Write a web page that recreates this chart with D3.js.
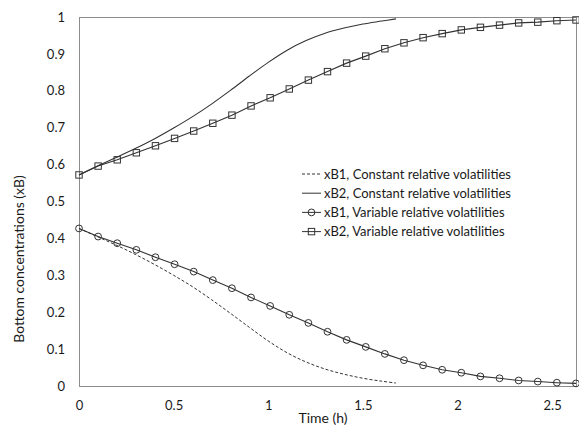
<!DOCTYPE html>
<html><head><meta charset="utf-8">
<script src="https://cdn.jsdelivr.net/npm/d3@7"></script>
<style>
body{margin:0;background:#fff}
svg{display:block}
text{font-family:Lato, "Open Sans", sans-serif; fill:#1a1a1a}
</style>
</head><body>
<svg id="chart" width="579" height="428"></svg>
<script>
// ---- data ----
const timeConst = [0,0.1,0.2,0.3,0.4,0.5,0.6,0.7,0.8,0.9,1.0,1.1,1.2,1.3,1.4,1.5,1.6,1.675];
const xB1Const  = [0.427,0.404,0.381,0.356,0.329,0.300,0.269,0.234,0.197,0.159,0.122,0.090,0.065,0.046,0.032,0.021,0.013,0.008];
const xB2Const  = [0.572,0.597,0.620,0.644,0.670,0.699,0.730,0.764,0.801,0.840,0.877,0.910,0.936,0.956,0.970,0.981,0.989,0.995];
const timeVar = [0,0.101,0.202,0.303,0.404,0.505,0.606,0.707,0.808,0.909,1.010,1.111,1.212,1.313,1.414,1.515,1.616,1.717,1.818,1.919,2.020,2.121,2.222,2.323,2.424,2.525,2.626];
const xB1Var  = [0.427,0.405,0.387,0.369,0.349,0.330,0.310,0.287,0.265,0.240,0.217,0.193,0.171,0.147,0.125,0.106,0.087,0.070,0.056,0.044,0.036,0.026,0.021,0.015,0.012,0.009,0.007];
const xB2Var  = [0.572,0.596,0.613,0.632,0.651,0.671,0.691,0.712,0.734,0.759,0.781,0.805,0.829,0.852,0.875,0.894,0.914,0.930,0.944,0.955,0.965,0.972,0.978,0.984,0.986,0.990,0.992];
const xTicks = [0,0.5,1,1.5,2,2.5];
const yTicks = [0,0.1,0.2,0.3,0.4,0.5,0.6,0.7,0.8,0.9,1];
const legendLabels = ["xB1, Constant relative volatilities","xB2, Constant relative volatilities","xB1, Variable relative volatilities","xB2, Variable relative volatilities"];
const xTitle = "Time (h)";
const yTitle = "Bottom concentrations  (xB)";

// ---- layout ----
const W = 579, H = 428;
const m = {left:79, top:17, right:3, bottom:42};
const svg = d3.select("#chart");
const x = d3.scaleLinear().domain([0, 2.626]).range([m.left, W - m.right]);
const y = d3.scaleLinear().domain([0, 1]).range([H - m.bottom, m.top]);
const lineCol = "#333";

// frame
svg.append("rect").attr("x", x(0)).attr("y", y(1)).attr("width", x(2.626)-x(0)).attr("height", y(0)-y(1))
  .attr("fill","none").attr("stroke","#8c8c8c").attr("stroke-width",1).attr("shape-rendering","crispEdges");

// axes (labels only)
const xAxis = d3.axisBottom(x).tickValues(xTicks).tickSize(0).tickPadding(12).tickFormat(d3.format("~g"));
const gx = svg.append("g").attr("transform",`translate(0,${y(0)})`).call(xAxis);
const yAxis = d3.axisLeft(y).tickValues(yTicks).tickSize(0).tickPadding(14).tickFormat(d3.format("~g"));
const gy = svg.append("g").attr("transform",`translate(${x(0)},0)`).call(yAxis);
[gx, gy].forEach(g => { g.select(".domain").remove(); g.selectAll("text").style("font-size","13px").style("font-family","Lato, sans-serif").attr("fill","#1a1a1a"); });
gx.selectAll("text").attr("dy","0.9em");

svg.append("text").attr("x", 323).attr("y", 423).attr("text-anchor","middle").style("font-size","14px").text(xTitle);
svg.append("text").attr("transform","translate(24,259) rotate(-90)").attr("text-anchor","middle").style("font-size","14px").text(yTitle);

// lines
const lineConst = d3.line().x(d => x(d[0])).y(d => y(d[1])).curve(d3.curveCatmullRom.alpha(0.5));
const lineVar = d3.line().x(d => x(d[0])).y(d => y(d[1]));
const dConst1 = d3.zip(timeConst, xB1Const), dConst2 = d3.zip(timeConst, xB2Const);
const dVar1 = d3.zip(timeVar, xB1Var), dVar2 = d3.zip(timeVar, xB2Var);

svg.append("path").attr("d", lineConst(dConst1)).attr("fill","none").attr("stroke",lineCol).attr("stroke-width",1).attr("stroke-dasharray","3,2");
svg.append("path").attr("d", lineConst(dConst2)).attr("fill","none").attr("stroke",lineCol).attr("stroke-width",1.1);
svg.append("path").attr("d", lineVar(dVar1)).attr("fill","none").attr("stroke",lineCol).attr("stroke-width",1.1);
svg.append("path").attr("d", lineVar(dVar2)).attr("fill","none").attr("stroke",lineCol).attr("stroke-width",1.1);

svg.append("g").selectAll("circle").data(dVar1).join("circle")
  .attr("cx", d => x(d[0])).attr("cy", d => y(d[1])).attr("r", 3.4)
  .attr("fill","none").attr("stroke",lineCol).attr("stroke-width",1);
const s = 6.4;
svg.append("g").selectAll("rect").data(dVar2).join("rect")
  .attr("x", d => x(d[0]) - s/2).attr("y", d => y(d[1]) - s/2).attr("width", s).attr("height", s)
  .attr("fill","none").attr("stroke",lineCol).attr("stroke-width",1);

// legend
const lg = svg.append("g");
legendLabels.forEach((lab, i) => {
  const cy = 174 + i*19.2;
  const x1 = 302, x2 = 321;
  const l = lg.append("line").attr("x1",x1).attr("x2",x2).attr("y1",cy).attr("y2",cy).attr("stroke",lineCol).attr("stroke-width",1);
  if (i === 0) l.attr("stroke-dasharray","3,2");
  if (i === 2) lg.append("circle").attr("cx",(x1+x2)/2).attr("cy",cy).attr("r",3.4).attr("fill","none").attr("stroke",lineCol);
  if (i === 3) lg.append("rect").attr("x",(x1+x2)/2 - s/2).attr("y",cy - s/2).attr("width",s).attr("height",s).attr("fill","none").attr("stroke",lineCol);
  lg.append("text").attr("x", 324).attr("y", cy).attr("dy","0.35em").style("font-size","13px").text(lab);
});
</script>
</body></html>
